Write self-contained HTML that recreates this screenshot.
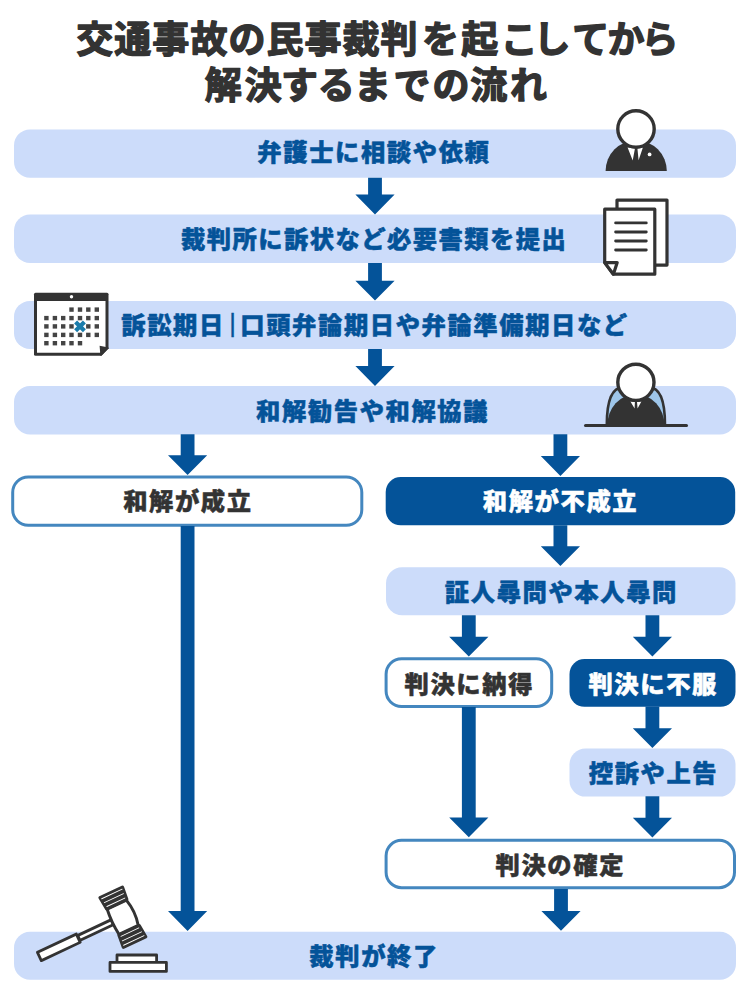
<!DOCTYPE html>
<html lang="ja">
<head>
<meta charset="utf-8">
<title>交通事故の民事裁判を起こしてから解決するまでの流れ</title>
<style>
html,body{margin:0;padding:0;background:#fff;}
body{width:750px;height:1000px;overflow:hidden;font-family:'Liberation Sans','Noto Sans CJK JP',sans-serif;}
svg{display:block}
.t{font-family:'Liberation Sans','Noto Sans CJK JP',sans-serif;font-weight:900;stroke-width:0.5px;stroke-linejoin:round;stroke-linecap:round;}
.bar{font-family:'Liberation Sans','Noto Sans CJK JP',sans-serif;font-weight:400;stroke-width:0.35px;}
.h{font-family:'Liberation Sans','Noto Sans CJK JP',sans-serif;font-weight:700;stroke-width:1.4px;stroke-linejoin:round;stroke-linecap:round;}
</style>
</head>
<body>
<svg width="750" height="1000" viewBox="0 0 750 1000">
<rect width="750" height="1000" fill="#fff"/>
<rect x="14" y="129.4" width="722" height="48.3" rx="16" ry="16" fill="#ccdcfa"/>
<rect x="14" y="214.6" width="722" height="48.3" rx="16" ry="16" fill="#ccdcfa"/>
<rect x="14" y="300.9" width="722" height="48.1" rx="16" ry="16" fill="#ccdcfa"/>
<rect x="14" y="386.1" width="722" height="48.3" rx="16" ry="16" fill="#ccdcfa"/>
<rect x="14" y="931.7" width="722" height="48.0" rx="16" ry="16" fill="#ccdcfa"/>
<path d="M368.1 177.7H381.9V194.6H394.6L375 214.4L355.4 194.6H368.1Z" fill="#045399"/>
<path d="M368.1 262.9H381.9V280.8H394.6L375 300.6L355.4 280.8H368.1Z" fill="#045399"/>
<path d="M368.1 348.9H381.9V366.1H394.6L375 385.9L355.4 366.1H368.1Z" fill="#045399"/>
<path d="M180.7 434.2H194.5V455.2H207.2L187.6 475.0L168.0 455.2H180.7Z" fill="#045399"/>
<path d="M553.5 434.2H567.3V456.1H580.0L560.4 475.9L540.8 456.1H553.5Z" fill="#045399"/>
<rect x="12.7" y="476.9" width="349.1" height="48.4" rx="15.5" ry="15.5" fill="#fff" stroke="#4487bf" stroke-width="3.0"/>
<rect x="385.7" y="477" width="349.5" height="48.3" rx="15" ry="15" fill="#045399"/>
<path d="M180.7 526H194.5V911.1H207.2L187.6 930.9L168.0 911.1H180.7Z" fill="#045399"/>
<path d="M553.5 525.3H567.3V546.3H580.0L560.4 566.1L540.8 546.3H553.5Z" fill="#045399"/>
<rect x="386" y="567.3" width="349.5" height="48.0" rx="16" ry="16" fill="#ccdcfa"/>
<path d="M461.9 615.3H475.7V636.8H488.4L468.8 656.6L449.2 636.8H461.9Z" fill="#045399"/>
<path d="M645.5 615.3H659.3V636.7H672.0L652.4 656.5L632.8 636.7H645.5Z" fill="#045399"/>
<rect x="386.1" y="658.7" width="165.6" height="47.8" rx="15.5" ry="15.5" fill="#fff" stroke="#4487bf" stroke-width="3.0"/>
<rect x="569.5" y="659" width="166" height="47.8" rx="15" ry="15" fill="#045399"/>
<path d="M461.9 707H475.7V817.5H488.4L468.8 837.3L449.2 817.5H461.9Z" fill="#045399"/>
<path d="M645.5 706.5H659.3V728.2H672.0L652.4 748.0L632.8 728.2H645.5Z" fill="#045399"/>
<rect x="569.5" y="748.6" width="166" height="48" rx="16" ry="16" fill="#ccdcfa"/>
<path d="M645.5 796.3H659.3V817.8H672.0L652.4 837.6L632.8 817.8H645.5Z" fill="#045399"/>
<rect x="386.1" y="840.3" width="348.4" height="47.4" rx="15.5" ry="15.5" fill="#fff" stroke="#4487bf" stroke-width="3.0"/>
<path d="M554.1 889H567.9V910.9H580.6L561 930.7L541.4 910.9H554.1Z" fill="#045399"/>
<text class="h" x="76.3 114.33 152.36 190.39 228.42 266.45 304.48 342.51 380.54 422.0 461.25 500.85 533.6 572.15 607.5 641.6" y="52.8" font-size="37" fill="#333333" stroke="#333333">交通事故の民事裁判を起こしてから</text>
<text class="h" x="204.85 244.65 281 317.7 354 393.5 432.5 470.2 510" y="98.8" font-size="37" fill="#333333" stroke="#333333">解決するまでの流れ</text>
<text class="t" x="373.9" y="161.25" font-size="24.3" fill="#045399" stroke="#045399" text-anchor="middle" letter-spacing="1.6">弁護士に相談や依頼</text>
<text class="t" x="374.12" y="247.55" font-size="24.3" fill="#045399" stroke="#045399" text-anchor="middle" letter-spacing="1.45">裁判所に訴状など必要書類を提出</text>
<text class="t" x="121.3" y="333.55" font-size="24.3" fill="#045399" stroke="#045399" text-anchor="start" letter-spacing="1.6">訴訟期日</text>
<text class="bar" x="232.55" y="332.2" font-size="25.6" fill="#045399" stroke="#045399" text-anchor="middle">|</text>
<text class="t" x="240.3" y="333.55" font-size="24.3" fill="#045399" stroke="#045399" text-anchor="start" letter-spacing="1.6">口頭弁論期日や弁論準備期日など</text>
<text class="t" x="372.6" y="419.85" font-size="24.3" fill="#045399" stroke="#045399" text-anchor="middle" letter-spacing="1.6">和解勧告や和解協議</text>
<text class="t" x="187.9" y="510.15" font-size="24.3" fill="#333333" stroke="#333333" text-anchor="middle" letter-spacing="1.6">和解が成立</text>
<text class="t" x="560.5" y="510.25" font-size="24.3" fill="#fff" stroke="#fff" text-anchor="middle" letter-spacing="1.6">和解が不成立</text>
<text class="t" x="561.4" y="600.75" font-size="24.3" fill="#045399" stroke="#045399" text-anchor="middle" letter-spacing="1.6">証人尋問や本人尋問</text>
<text class="t" x="469.3" y="693.05" font-size="24.3" fill="#333333" stroke="#333333" text-anchor="middle" letter-spacing="1.6">判決に納得</text>
<text class="t" x="653.2" y="692.95" font-size="24.3" fill="#fff" stroke="#fff" text-anchor="middle" letter-spacing="1.6">判決に不服</text>
<text class="t" x="653.5" y="781.85" font-size="24.3" fill="#045399" stroke="#045399" text-anchor="middle" letter-spacing="1.6">控訴や上告</text>
<text class="t" x="560.3" y="874.05" font-size="24.3" fill="#333333" stroke="#333333" text-anchor="middle" letter-spacing="1.6">判決の確定</text>
<text class="t" x="374.1" y="964.75" font-size="24.3" fill="#045399" stroke="#045399" text-anchor="middle" letter-spacing="1.6">裁判が終了</text>
<!-- lawyer -->
<g id="lawyer">
<path d="M605.6 171A30.6 30.6 0 0 1 666.8 171Z" fill="#333"/>
<path d="M627.6 147.6L635 148.2L632.7 160.4Z M642.9 147.6L637.4 148.2L638.6 160.2Z" fill="#fff"/>
<circle cx="649.6" cy="154.4" r="1.9" fill="#fff"/>
<circle cx="636" cy="129" r="18.2" fill="#fff" stroke="#333" stroke-width="3.4"/>
</g>
<!-- documents -->
<g id="docs" fill="#fff" stroke="#333" stroke-width="3.2" stroke-linejoin="round">
<rect x="617" y="200.1" width="50" height="65"/>
<path d="M604.7 209.2H654.8V274.2H613.4L604.7 262.6Z"/>
<path d="M604.7 262.6H617.2L613.4 274.2Z"/>
<path d="M615.6 222.9H646.3M615.6 232H646.3M615.6 241H646.3M615.6 250H646.3" fill="none" stroke-width="2.8" stroke-linecap="round"/>
</g>
<!-- calendar -->
<g id="cal">
<path d="M35.5 292.8H107A1.5 1.5 0 0 1 108.5 294.3V348.6L101.4 355.7H35.5A1.5 1.5 0 0 1 34 354.2V294.3A1.5 1.5 0 0 1 35.5 292.8Z" fill="#333"/>
<path d="M37 301.1H105.5V347.2L100 352.7H37Z" fill="#fff"/>
<path d="M99.6 345.8L108.5 347.6V348.6L101.4 355.7H100.4Z" fill="#333"/>
<circle cx="71.5" cy="296.7" r="1.7" fill="#fff"/>
<g fill="#444">
<rect x="69.3" y="307.4" width="4.4" height="4.4"/><rect x="77.8" y="307.4" width="4.4" height="4.4"/><rect x="86.1" y="307.4" width="4.4" height="4.4"/><rect x="94.6" y="307.4" width="4.4" height="4.4"/>
<rect x="44.2" y="315.9" width="4.4" height="4.4"/><rect x="52.7" y="315.9" width="4.4" height="4.4"/><rect x="61" y="315.9" width="4.4" height="4.4"/><rect x="69.3" y="315.9" width="4.4" height="4.4"/><rect x="77.8" y="315.9" width="4.4" height="4.4"/><rect x="86.1" y="315.9" width="4.4" height="4.4"/><rect x="94.6" y="315.9" width="4.4" height="4.4"/>
<rect x="44.2" y="324.2" width="4.4" height="4.4"/><rect x="52.7" y="324.2" width="4.4" height="4.4"/><rect x="61" y="324.2" width="4.4" height="4.4"/><rect x="69.3" y="324.2" width="4.4" height="4.4"/><rect x="86.1" y="324.2" width="4.4" height="4.4"/><rect x="94.6" y="324.2" width="4.4" height="4.4"/>
<rect x="44.2" y="332.7" width="4.4" height="4.4"/><rect x="52.7" y="332.7" width="4.4" height="4.4"/><rect x="61" y="332.7" width="4.4" height="4.4"/><rect x="69.3" y="332.7" width="4.4" height="4.4"/><rect x="77.8" y="332.7" width="4.4" height="4.4"/><rect x="86.1" y="332.7" width="4.4" height="4.4"/><rect x="94.6" y="332.7" width="4.4" height="4.4"/>
<rect x="44.2" y="341" width="4.4" height="4.4"/><rect x="52.7" y="341" width="4.4" height="4.4"/><rect x="61" y="341" width="4.4" height="4.4"/><rect x="69.3" y="341" width="4.4" height="4.4"/><rect x="77.8" y="341" width="4.4" height="4.4"/>
</g>
<path d="M75.6 322L84.4 330.8M84.4 322L75.6 330.8" stroke="#1a7cab" stroke-width="4.2" fill="none"/>
</g>
<!-- judge -->
<g id="judge">
<path d="M606.8 425C606.8 407 609.3 387.4 623 387.4H649C662.5 387.4 665 407 665 425Z" fill="#9ec6ea" stroke="#333" stroke-width="2.6" stroke-linejoin="round"/>
<path d="M607.3 425.5A28.6 31.4 0 0 1 664.5 425.5Z" fill="#333"/>
<path d="M630.4 401.4L634.9 402L634.6 408.6Z M641.4 401.4L637 402L637.6 408.6Z" fill="#fff"/>
<circle cx="635.9" cy="382.3" r="18.1" fill="#fff" stroke="#333" stroke-width="3.4"/>
<path d="M585.5 425.5H686.5" stroke="#333" stroke-width="3" stroke-linecap="round" fill="none"/>
</g>
<!-- gavel -->
<g id="gavel">
<g transform="translate(38.1 957.1) rotate(-25.2)">
<rect x="45" y="-2.7" width="37" height="5.4" fill="#fff" stroke="#333" stroke-width="2.9"/>
<rect x="1.4" y="-4.55" width="43" height="9.1" fill="#fff" stroke="#333" stroke-width="2.8" stroke-linejoin="round"/>
<g transform="translate(93.7 0)">
<path d="M-10.8 -14Q-12.6 0 -10.8 14H10.4Q14 0 10.4 -14Z" fill="#fff" stroke="#333" stroke-width="3"/>
<path d="M-12.4 -27.4H12.4L11.2 -14.6H-11.2Z M-12.4 27.4H12.4L11.2 14.6H-11.2Z" fill="#333" stroke="#333" stroke-width="3.2" stroke-linejoin="round"/>
<path d="M-11.3 -25.7H11.3M-10.6 -21.1H10.6M-9.9 -16.5H9.9M-11.3 25.7H11.3M-10.6 21.1H10.6M-9.9 16.5H9.9" stroke="#fff" stroke-width="0.9" fill="none" stroke-linecap="round"/>
</g>
</g>
<rect x="117" y="955" width="39.6" height="7.4" fill="#fff" stroke="#333" stroke-width="2.8" stroke-linejoin="round"/>
<rect x="110" y="962.4" width="56.4" height="9" fill="#fff" stroke="#333" stroke-width="2.8" stroke-linejoin="round"/>
</g>

</svg>
</body>
</html>
